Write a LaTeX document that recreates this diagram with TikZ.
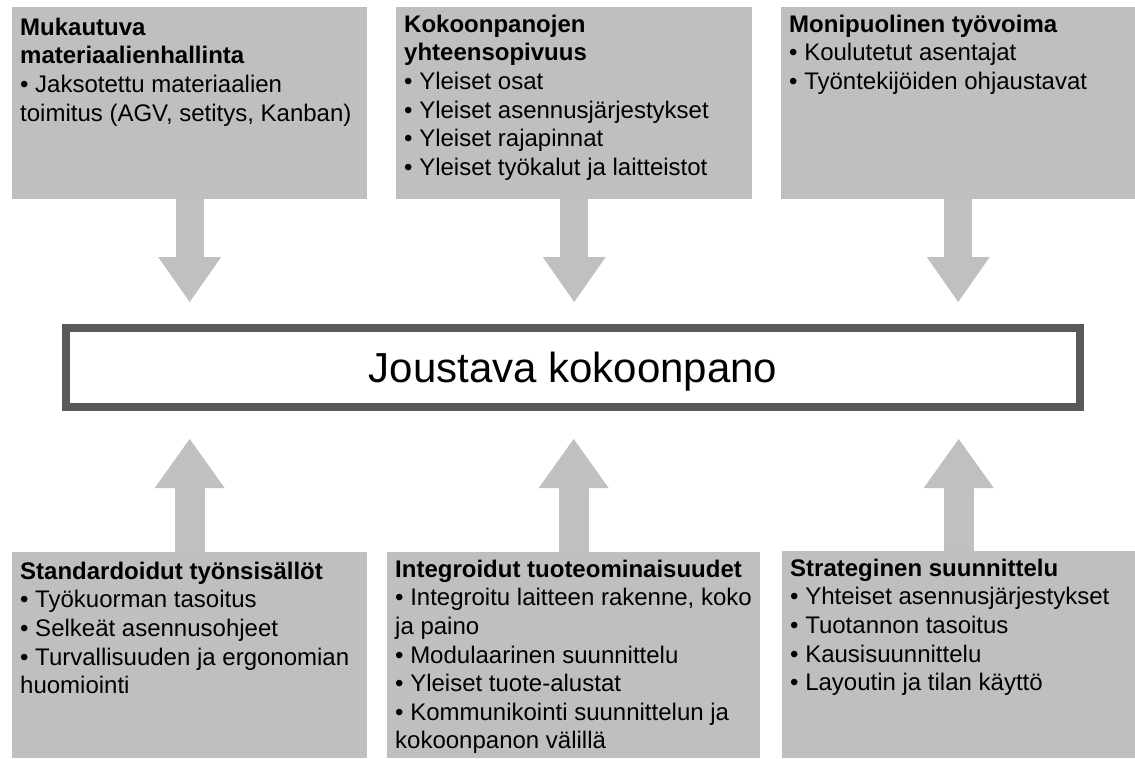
\documentclass[tikz,border=0pt]{standalone}
\usepackage{fontspec}
\setmainfont{Liberation Sans}
\usetikzlibrary{arrows.meta}
\definecolor{panelgray}{HTML}{BFBFBF}
\definecolor{arrowgray}{HTML}{C0C0C0}
\definecolor{framegray}{HTML}{595959}
\begin{document}
\begin{tikzpicture}[x=1pt,y=-1pt,
  panel/.style={fill=panelgray, draw=none, anchor=north west, inner sep=0pt},
  paneltext/.style={anchor=north west, align=left, inner xsep=8pt, inner ysep=7.7pt,
    font=\fontsize{24}{28.6}\selectfont},
  core/.style={draw=framegray, line width=8pt, fill=white, minimum width=1014pt,
    minimum height=79pt, text height=30pt, text depth=0pt,
    font=\fontsize{42}{50}\selectfont},
  downflow/.style={draw=arrowgray, line width=28pt, shorten >=22pt,
    -{Triangle[width=63pt 0 0, length=45pt 0 0, line width=0pt 0 0]}},
  upflow/.style={draw=arrowgray, line width=30pt, shorten >=28pt,
    -{Triangle[width=70pt 0 0, length=49pt 0 0, line width=0pt 0 0]}}]
\useasboundingbox (0,0) rectangle (1135,758);

% top row of panels
\node[panel, minimum width=355pt, minimum height=192pt] (T1) at (12,7) {};
\node[panel, minimum width=356pt, minimum height=192pt] (T2) at (396,7) {};
\node[panel, minimum width=354pt, minimum height=192pt] (T3) at (781,7) {};

% bottom row of panels
\node[panel, minimum width=355pt, minimum height=206pt] (B1) at (12,552) {};
\node[panel, minimum width=373pt, minimum height=206pt] (B2) at (387,552) {};
\node[panel, minimum width=353pt, minimum height=207pt] (B3) at (782,551) {};

% central element
\node[core] (C) at (573,367.5) {Joustava kokoonpano};

% panel texts
\node[paneltext, inner ysep=10.7pt] (T1t) at (T1.north west) {\textbf{Mukautuva}\\
  \textbf{materiaalienhallinta}\\
  • Jaksotettu materiaalien\\
  toimitus (AGV, setitys, Kanban)};
\node[paneltext] (T2t) at (T2.north west) {\textbf{Kokoonpanojen}\\
  \textbf{yhteensopivuus}\\
  • Yleiset osat\\
  • Yleiset asennusjärjestykset\\
  • Yleiset rajapinnat\\
  • Yleiset työkalut ja laitteistot};
\node[paneltext] (T3t) at (T3.north west) {\textbf{Monipuolinen työvoima}\\
  • Koulutetut asentajat\\
  • Työntekijöiden ohjaustavat};
\node[paneltext, inner ysep=9.7pt] (B1t) at (B1.north west) {\textbf{Standardoidut työnsisällöt}\\
  • Työkuorman tasoitus\\
  • Selkeät asennusohjeet\\
  • Turvallisuuden ja ergonomian\\
  huomiointi};
\node[paneltext] (B2t) at (B2.north west) {\textbf{Integroidut tuoteominaisuudet}\\
  • Integroitu laitteen rakenne, koko\\
  ja paino\\
  • Modulaarinen suunnittelu\\
  • Yleiset tuote-alustat\\
  • Kommunikointi suunnittelun ja\\
  kokoonpanon välillä};
\node[paneltext] (B3t) at (B3.north west) {\textbf{Strateginen suunnittelu}\\
  • Yhteiset asennusjärjestykset\\
  • Tuotannon tasoitus\\
  • Kausisuunnittelu\\
  • Layoutin ja tilan käyttö};

% block arrows into the central element
\draw[downflow] (T1.south) -- (T1.south |- C.north);
\draw[downflow] (T2.south) -- (T2.south |- C.north);
\draw[downflow] (T3.south) -- (T3.south |- C.north);
\draw[upflow] (B1.north) -- (B1.north |- C.south);
\draw[upflow] (B2.north) -- (B2.north |- C.south);
\draw[upflow] (B3.north) -- (B3.north |- C.south);
\end{tikzpicture}
\end{document}
